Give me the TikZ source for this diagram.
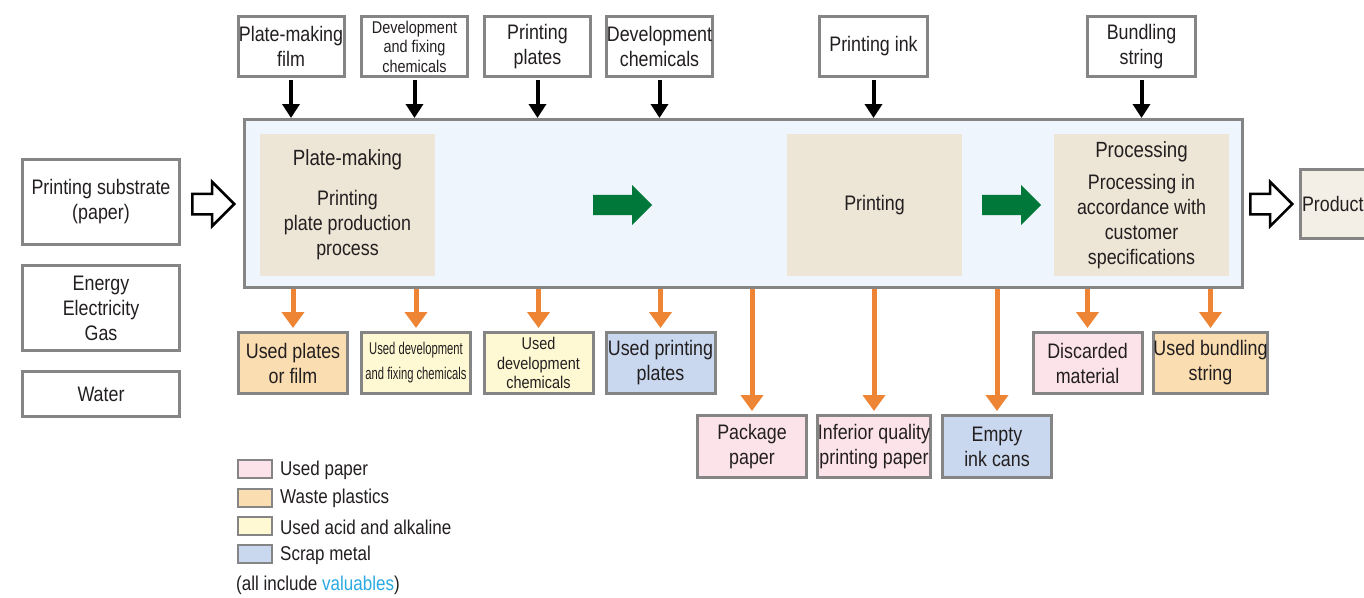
\documentclass[tikz,border=0pt]{standalone}
\usepackage{fontspec}
\setmainfont[FakeStretch=0.85]{Liberation Sans}
\newfontfamily\condfont[FakeStretch=0.66]{Liberation Sans}
\usetikzlibrary{arrows.meta,shapes.arrows}

\definecolor{boxgray}{HTML}{858585}
\definecolor{ink}{HTML}{231F20}
\definecolor{mainfill}{HTML}{EEF5FC}
\definecolor{beige}{HTML}{EDE5D6}
\definecolor{paperpink}{HTML}{FCE3EA}
\definecolor{plasticorange}{HTML}{FADDB0}
\definecolor{acidyellow}{HTML}{FEF9D2}
\definecolor{metalblue}{HTML}{C9D8EF}
\definecolor{prodfill}{HTML}{F4EFE6}
\definecolor{wastearrow}{HTML}{EE8535}
\definecolor{flowgreen}{HTML}{00783A}
\definecolor{linkcyan}{HTML}{29AAE2}

\newcommand{\normalfs}{\fontsize{21}{25}\selectfont}
\newcommand{\smallfs}{\fontsize{17}{19.5}\selectfont}
\newcommand{\legendfs}{\fontsize{20}{24}\selectfont}

\tikzset{
  box/.style={draw=boxgray, line width=3pt, fill=white, align=center,
    inner sep=0pt, text=ink, font=\normalfs},
  inbox/.style={box, minimum width=106pt, minimum height=60pt},
  outbox/.style={box, minimum width=109pt, minimum height=61pt},
  sidebox/.style={box, minimum width=157pt},
  stagebox/.style={fill=beige, draw=none, align=center, inner sep=0pt,
    minimum width=175pt, minimum height=142pt, text=ink, font=\normalfs},
  feed/.style={line width=4pt, draw=black, shorten <=2pt,
    -{Triangle[width=17pt,length=14pt]}},
  waste/.style={line width=5pt, draw=wastearrow, shorten >=3pt,
    -{Triangle[width=22pt,length=16pt]}},
  hollow/.style={single arrow, draw=black, fill=white, line width=2.5pt,
    minimum height=42pt, single arrow head extend=12pt,
    inner xsep=0pt, inner ysep=9pt, anchor=tail},
  flow/.style={single arrow, fill=flowgreen, draw=none,
    minimum height=59pt, single arrow head extend=10pt,
    inner xsep=0pt, inner ysep=10pt, anchor=tail},
  legbox/.style={draw=boxgray, line width=2pt, minimum width=34pt,
    minimum height=18pt, inner sep=0pt},
  legtext/.style={anchor=west, inner sep=0pt, text=ink, font=\legendfs}
}

\begin{document}
\begin{tikzpicture}[x=1pt,y=-1pt]
\useasboundingbox (0,0) rectangle (1364,597);
\clip (0,0) rectangle (1364,597);
\fill[white] (0,0) rectangle (1364,597);

% main process frame
\node[box, fill=mainfill, minimum width=998pt, minimum height=168pt] (main) at (743.5,203.5) {};

% process stages
\node[stagebox] (platemaking) at (347.5,205)
  {\fontsize{22}{25}\selectfont Plate-making\\[15pt]Printing\\plate production\\process};
\node[stagebox] (printing) at (874.5,205) {Printing};
\node[stagebox] (processing) at (1141.5,205)
  {\fontsize{22}{25}\selectfont Processing\\[7pt]Processing in\\accordance with\\customer\\specifications};

\node[flow] (g1) at (593,205) {};
\node[flow] (g2) at (982,205) {};

% inputs from above
\node[inbox] (film) at (291,46.5) {Plate-making\\film};
\node[inbox, font=\smallfs] (fixchem) at (414.5,46.5) {Development\\and fixing\\chemicals};
\node[inbox] (plates) at (537.5,46.5) {Printing\\plates};
\node[inbox] (devchem) at (659.5,46.5) {Development\\chemicals};
\node[inbox, minimum width=108pt] (inkin) at (873.5,46.5) {Printing ink};
\node[inbox, minimum width=108pt] (string) at (1141.5,46.5) {Bundling\\string};

\foreach \n in {film,fixchem,plates,devchem,inkin,string}
  \draw[feed] (\n.south) -- (\n.south |- main.north);

% inputs from the left
\node[sidebox, minimum height=85pt] (substrate) at (101,202) {Printing substrate\\(paper)};
\node[sidebox, minimum height=85pt] (energy) at (101,308) {Energy\\Electricity\\Gas};
\node[sidebox, minimum height=45pt] (water) at (101,394) {Water};

\node[hollow] (inarrow) at (191,204) {};

% output
\node[box, fill=prodfill, minimum width=72pt, minimum height=69pt, anchor=west,
  text width=68pt, align=left, inner xsep=2pt] (product) at (1298.5,204) {Product};
\node[hollow] (outarrow) at (1249,204) {};

% waste outputs
\node[outbox, fill=plasticorange] (usedfilm) at (293,363) {Used plates\\or film};
\node[outbox, fill=acidyellow, font=\condfont\fontsize{17}{25}\selectfont] (usedfix) at (416,363)
  {Used development\\and fixing chemicals};
\node[outbox, fill=acidyellow, font=\smallfs] (useddev) at (538.5,363)
  {Used\\development\\chemicals};
\node[outbox, fill=metalblue] (usedplates) at (660.5,363) {Used printing\\plates};
\node[outbox, fill=paperpink] (discarded) at (1087.5,363) {Discarded\\material};
\node[outbox, fill=plasticorange] (usedstring) at (1210.5,363) {Used bundling\\string};

\node[outbox, fill=paperpink, minimum height=62pt] (package) at (752,446.5) {Package\\paper};
\node[outbox, fill=paperpink, minimum height=62pt] (inferior) at (874,446.5)
  {Inferior quality\\printing paper};
\node[outbox, fill=metalblue, minimum height=62pt] (cans) at (997,446.5) {Empty\\ink cans};

\foreach \n in {usedfilm,usedfix,useddev,usedplates,discarded,usedstring,package,inferior,cans}
  \draw[waste] (\n.north |- main.south) -- (\n.north);

% legend
\node[legbox, fill=paperpink] (lg1) at (255,469) {};
\node[legbox, fill=plasticorange] (lg2) at (255,497.5) {};
\node[legbox, fill=acidyellow] (lg3) at (255,526) {};
\node[legbox, fill=metalblue] (lg4) at (255,554) {};
\node[legtext] (lt1) at ([xshift=7pt,yshift=-1pt]lg1.east) {Used paper};
\node[legtext] (lt2) at ([xshift=7pt,yshift=-1pt]lg2.east) {Waste plastics};
\node[legtext] (lt3) at ([xshift=7pt,yshift=-1pt]lg3.east) {Used acid and alkaline};
\node[legtext] (lt4) at ([xshift=7pt,yshift=-1pt]lg4.east) {Scrap metal};
\node[legtext] (lt5) at (236,585) {(all include \textcolor{linkcyan}{valuables})};
\end{tikzpicture}
\end{document}
